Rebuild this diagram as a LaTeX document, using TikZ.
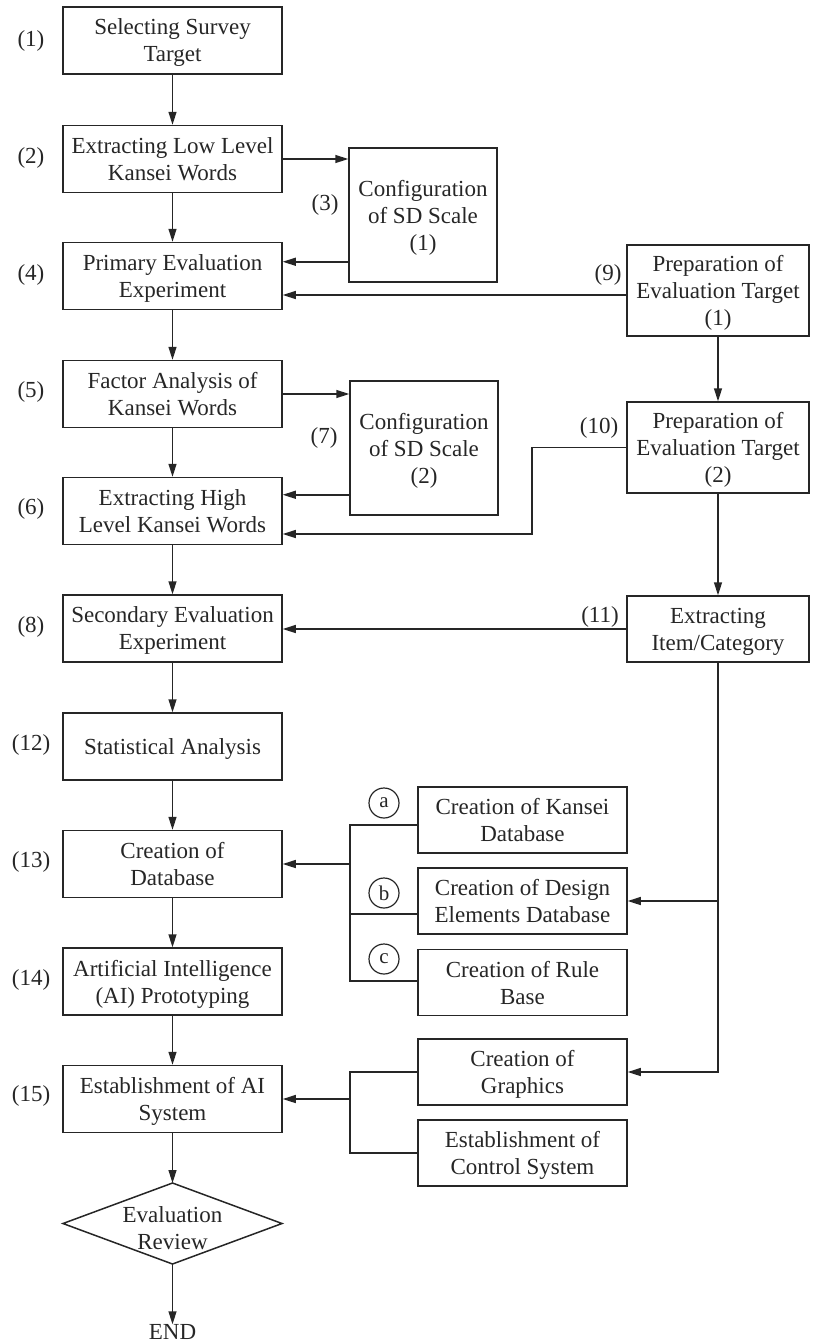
\documentclass[tikz,border=0pt]{standalone}
\usepackage{fontspec}
\setmainfont{Liberation Serif}
\usetikzlibrary{arrows.meta}
\definecolor{ink}{HTML}{262626}
\begin{document}
\begin{tikzpicture}[x=1pt,y=-1pt,
  every node/.style={font=\fontsize{23}{27}\selectfont, text=ink},
  box/.style={draw=ink, line width=1.5pt, rectangle, align=center, inner sep=0pt, text depth=0pt},
  mainbox/.style={box, minimum width=219pt, minimum height=67pt},
  sdbox/.style={box, minimum width=148pt, minimum height=134pt},
  prepbox/.style={box, minimum width=182pt, minimum height=91pt},
  subbox/.style={box, minimum width=209pt, minimum height=66pt},
  tag/.style={inner sep=0pt},
  letterdisc/.style={draw=ink, line width=1.2pt, circle, minimum size=30pt, inner sep=0pt,
    font=\fontsize{21}{21}\selectfont},
  link/.style={draw=ink, line width=1.5pt},
  arr/.style={link, -{Triangle[length=13pt,width=8pt]}},
]
\useasboundingbox (0,0) rectangle (812,1344);

% main column
\node[mainbox] (b1)  at (172.5,40.5)  {Selecting Survey\\Target};
\node[mainbox] (b2)  at (172.5,159)   {Extracting Low Level\\Kansei Words};
\node[mainbox] (b4)  at (172.5,276)   {Primary Evaluation\\Experiment};
\node[mainbox] (b5)  at (172.5,394)   {Factor Analysis of\\Kansei Words};
\node[mainbox] (b6)  at (172.5,511)   {Extracting High\\Level Kansei Words};
\node[mainbox] (b8)  at (172.5,628.5) {Secondary Evaluation\\Experiment};
\node[mainbox] (b12) at (172.5,746.5) {Statistical Analysis};
\node[mainbox] (b13) at (172.5,864)   {Creation of\\Database};
\node[mainbox] (b14) at (172.5,981.5) {Artificial Intelligence\\(AI) Prototyping};
\node[mainbox] (b15) at (172.5,1099)  {Establishment of AI\\System};

% decision diamond: outline around a centre point, text set inside
\coordinate (revC) at (172.5,1223.5);
\coordinate (revN) at ([yshift=40.5pt]revC);
\coordinate (revS) at ([yshift=-40.5pt]revC);
\coordinate (revW) at ([xshift=-109.5pt]revC);
\coordinate (revE) at ([xshift=109.5pt]revC);
\draw[link, line join=miter] (revN) -- (revE) -- (revS) -- (revW) -- cycle;
\node[align=center, inner sep=0pt, text depth=0pt] (rev) at (172.5,1228) {Evaluation\\Review};
\node[tag] (end) at (172.5,1332) {END};

% step numbers
\node[tag] at (31,41)   {(1)};
\node[tag] at (31,158)  {(2)};
\node[tag] at (31,275)  {(4)};
\node[tag] at (31,392)  {(5)};
\node[tag] at (31,509)  {(6)};
\node[tag] at (31,627)  {(8)};
\node[tag] at (31,745)  {(12)};
\node[tag] at (31,862)  {(13)};
\node[tag] at (31,980)  {(14)};
\node[tag] at (31,1096) {(15)};
\node[tag] at (325,205) {(3)};
\node[tag] at (324,438) {(7)};
\node[tag] at (608,275) {(9)};
\node[tag] at (599,428) {(10)};
\node[tag] at (600,617) {(11)};

% SD scale boxes
\node[sdbox] (sd1) at (423,215) {Configuration\\of SD Scale\\(1)};
\node[sdbox] (sd2) at (424,448) {Configuration\\of SD Scale\\(2)};

% evaluation target column
\node[prepbox] (p1) at (718,290.5) {Preparation of\\Evaluation Target\\(1)};
\node[prepbox] (p2) at (718,447.5) {Preparation of\\Evaluation Target\\(2)};
\node[box, minimum width=182pt, minimum height=66pt] (x11) at (718,629) {Extracting\\Item/Category};

% database and system components
\node[subbox] (ka) at (522.5,820)   {Creation of Kansei\\Database};
\node[subbox] (de) at (522.5,901)   {Creation of Design\\Elements Database};
\node[subbox] (rb) at (522.5,982.5) {Creation of Rule\\Base};
\node[subbox] (gr) at (522.5,1072)  {Creation of\\Graphics};
\node[subbox] (cs) at (522.5,1153)  {Establishment of\\Control System};

\node[letterdisc] (ma) at (384,803) {a};
\node[letterdisc] (mb) at (384,893) {b};
\node[letterdisc] (mc) at (384,959) {c};

% main flow
\draw[arr] (b1) -- (b2);
\draw[arr] (b2) -- (b4);
\draw[arr] (b4) -- (b5);
\draw[arr] (b5) -- (b6);
\draw[arr] (b6) -- (b8);
\draw[arr] (b8) -- (b12);
\draw[arr] (b12) -- (b13);
\draw[arr] (b13) -- (b14);
\draw[arr] (b14) -- (b15);
\draw[arr] (b15) -- (revN);
\draw[arr] (revS) -- (end);

% SD scale loops
\draw[arr] (b2.east) -- (b2.east -| sd1.west);
\draw[arr] ([yshift=21pt]sd1.south west) coordinate (s1) -- (s1 -| b4.east);
\draw[arr] (b5.east) -- (b5.east -| sd2.west);
\draw[arr] ([yshift=21pt]sd2.south west) coordinate (s2) -- (s2 -| b6.east);

% evaluation target links
\draw[arr] ([yshift=-4.5pt]p1.west) coordinate (q1) -- (q1 -| b4.east);
\draw[arr] (p1) -- (p2);
\coordinate (j10) at (532,447.5);
\draw[arr] (p2.west) -- (j10) |- ([yshift=-23pt]b6.east);
\draw[arr] (p2) -- (x11);
\draw[arr] (x11.west) -- (x11.west -| b8.east);
\draw[arr] (x11.south) |- (gr.east);
\draw[arr] (x11.south |- de.east) -- (de.east);

% database bus
\coordinate (busA) at (350,825);
\coordinate (busB) at (350,914);
\coordinate (busC) at (350,981);
\draw[link] (ka.west |- busA) -- (busA) -- (busC) -- (rb.west |- busC);
\draw[link] (busB) -- (de.west |- busB);
\draw[arr] (b13.east -| busA) -- (b13.east);

% system bus
\coordinate (busG) at (350,1072);
\draw[link] (gr.west) -- (gr.west -| busG) -- (cs.west -| busG) -- (cs.west);
\draw[arr] (b15.east -| busG) -- (b15.east);
\end{tikzpicture}
\end{document}
